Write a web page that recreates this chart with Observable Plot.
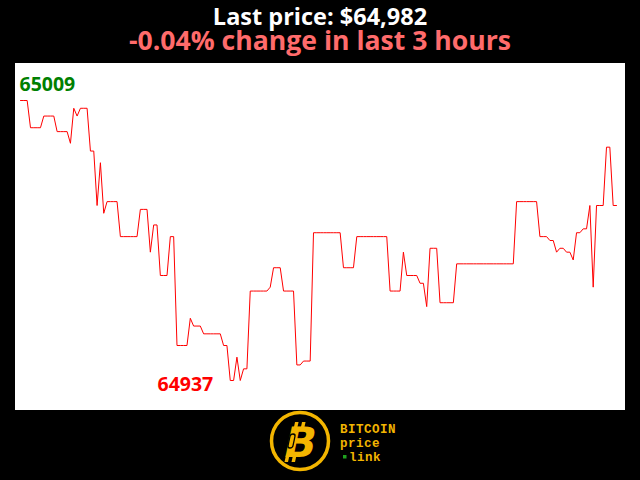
<!DOCTYPE html>
<html>
<head>
<meta charset="utf-8">
<script src="https://cdn.jsdelivr.net/npm/d3@7"></script>
<script src="https://cdn.jsdelivr.net/npm/@observablehq/plot@0.6"></script>
<style>
  html, body { margin: 0; padding: 0; background: #000; }
  body { width: 640px; height: 480px; position: relative; overflow: hidden; font-family: "Open Sans", "Noto Sans", sans-serif; }
  #title { position: absolute; left: 0; width: 640px; top: 6px; text-align: center; color: #fff; font-weight: 700; font-size: 23.5px; line-height: 20px; white-space: nowrap; }
  #subtitle { position: absolute; left: 0; width: 640px; top: 27px; text-align: center; color: #ff6b6b; font-weight: 700; font-size: 26.6px; line-height: 26px; white-space: nowrap; }
  #chart { position: absolute; left: 15px; top: 63px; }
  #logo { position: absolute; left: 0; top: 0; }
</style>
</head>
<body>
<div id="title"></div>
<div id="subtitle"></div>
<div id="chart"></div>
<svg id="logo" width="640" height="480">
  <circle cx="300" cy="441" r="28.5" fill="#000" stroke="#f3b500" stroke-width="3.5"/>
  <g transform="translate(300,441) skewX(-12)">
    <rect x="-9" y="-19" width="3.5" height="6" fill="#f3b500"/>
    <rect x="-2" y="-19" width="3.5" height="6" fill="#f3b500"/>
    <rect x="-11" y="14" width="3.5" height="7" fill="#f3b500"/>
    <rect x="-4" y="14" width="3.5" height="7" fill="#f3b500"/>
    <text x="1" y="16" text-anchor="middle" font-family="DejaVu Sans" font-weight="bold" font-size="42" fill="#f3b500">B</text>
    <rect x="-11" y="-7" width="5" height="14" rx="2.5" fill="none" stroke="#000" stroke-width="1.3"/>
  </g>
  <g font-family="Liberation Mono, DejaVu Sans Mono, monospace" font-weight="bold" font-size="12.5" letter-spacing="0.5" fill="#f3b500">
    <text x="340" y="433">BITCOIN</text>
    <text x="340" y="447">price</text>
    <text x="349" y="461">link</text>
  </g>
  <rect x="343" y="455" width="3.5" height="3.5" fill="#1fa01f"/>
</svg>
<script>
const lastPriceLabel = "Last price: $64,982";
const changeLabel = "-0.04% change in last 3 hours";

// minute index over last 3 hours (180 samples)
const prices = [
  65009,65009,65009,65002,65002,65002,65002,65005,65005,65005,
  65005,65001,65001,65001,65001,64998,65007,65005,65007,65007,
  65007,64996,64996,64982,64993,64980,64983,64983,64983,64983,
  64974,64974,64974,64974,64974,64974,64981,64981,64981,64970,
  64977,64977,64964,64964,64964,64974,64974,64946,64946,64946,
  64946,64953,64951,64951,64951,64949,64949,64949,64949,64949,
  64949,64946,64946,64937,64937,64943,64937,64940,64940,64960,
  64960,64960,64960,64960,64960,64961,64966,64966,64966,64960,
  64960,64960,64960,64941,64941,64942,64942,64942,64975,64975,
  64975,64975,64975,64975,64975,64975,64975,64966,64966,64966,
  64966,64974,64974,64974,64974,64974,64974,64974,64974,64974,
  64974,64960,64960,64960,64960,64970,64964,64964,64964,64964,
  64962,64962,64956,64971,64971,64971,64957,64957,64957,64957,
  64957,64967,64967,64967,64967,64967,64967,64967,64967,64967,
  64967,64967,64967,64967,64967,64967,64967,64967,64967,64983,
  64983,64983,64983,64983,64983,64983,64974,64974,64974,64973,
  64973,64970,64971,64971,64970,64970,64968,64975,64975,64976,
  64976,64982,64961,64982,64982,64982,64997,64997,64982,64982
];

document.getElementById("title").textContent = lastPriceLabel;
document.getElementById("subtitle").textContent = changeLabel;

const data = prices.map((p, i) => ({i, p}));
const maxV = d3.max(prices), minV = d3.min(prices);
const maxPt = data.find(d => d.p === maxV);
const minPt = data.find(d => d.p === minV);

const chart = Plot.plot({
  width: 610,
  height: 347,
  margin: 0,
  style: {background: "#fff", overflow: "visible"},
  x: {domain: [0, prices.length - 1], range: [5, 601], axis: null},
  y: {domain: [minV, maxV], range: [317, 37], axis: null},
  marks: [
    Plot.line(data, {x: "i", y: "p", stroke: "#ff0000", strokeWidth: 1}),
    Plot.text([maxPt], {x: "i", y: "p", text: d => String(d.p), fill: "#008000", fontWeight: "bold", fontSize: 19.5, textAnchor: "start", dx: -1, dy: -16, fontFamily: "Open Sans"}),
    Plot.text([minPt], {x: "i", y: "p", text: d => String(d.p), fill: "#ff0000", fontWeight: "bold", fontSize: 19.5, textAnchor: "end", dx: -17, dy: 4, fontFamily: "Open Sans"})
  ]
});
document.getElementById("chart").appendChild(chart);
</script>
</body>
</html>
